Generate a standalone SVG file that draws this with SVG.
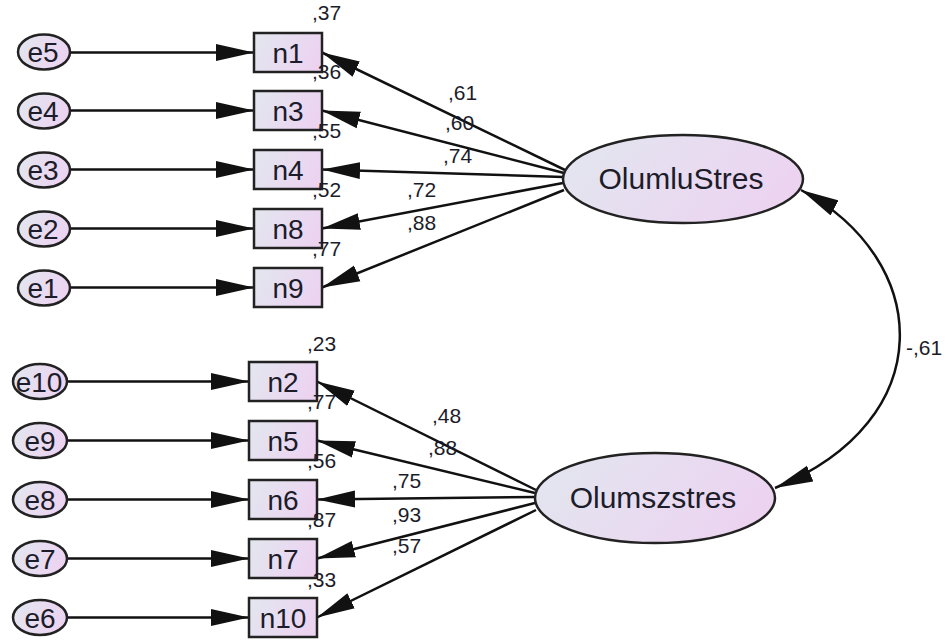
<svg xmlns="http://www.w3.org/2000/svg" width="952" height="643" viewBox="0 0 952 643">
<defs>
<linearGradient id="g" x1="0" y1="0" x2="1" y2="0.3">
<stop offset="0" stop-color="#e2e7ef"/>
<stop offset="1" stop-color="#ecd4f1"/>
</linearGradient>
<marker id="ah" markerUnits="userSpaceOnUse" markerWidth="38" markerHeight="18" viewBox="0 0 36 16" refX="36" refY="8" orient="auto-start-reverse">
<path d="M0,0 L36,8 L0,16 z" fill="#111"/>
</marker>
<style>
.nd{fill:url(#g);stroke:#222;stroke-width:2.5}
.lbl{font-family:"Liberation Sans",Arial,sans-serif;fill:#1c1c2a}
.nt{font-size:28px;text-anchor:middle}
.lt{font-size:30px;text-anchor:middle}
.v{font-size:21px}
.c line,.c path{stroke:#111;stroke-width:2.5;fill:none;marker-end:url(#ah)}
</style>
</defs>
<g class="c" id="connectors">
<line x1="70" y1="52.5" x2="254" y2="52.5"/>
<line x1="70" y1="110.5" x2="254" y2="110.5"/>
<line x1="70" y1="169.5" x2="254" y2="169.5"/>
<line x1="70" y1="228.5" x2="254" y2="228.5"/>
<line x1="70" y1="287.5" x2="254" y2="287.5"/>
<line x1="67" y1="381.5" x2="249" y2="381.5"/>
<line x1="67" y1="440.5" x2="249" y2="440.5"/>
<line x1="67" y1="499.5" x2="249" y2="499.5"/>
<line x1="67" y1="558.5" x2="249" y2="558.5"/>
<line x1="67" y1="617.5" x2="249" y2="617.5"/>
<line x1="565" y1="170" x2="322" y2="52.5"/>
<line x1="564" y1="173" x2="322" y2="110.5"/>
<line x1="563" y1="177" x2="322" y2="169.5"/>
<line x1="563" y1="183" x2="322" y2="228.5"/>
<line x1="564" y1="190" x2="322" y2="287.5"/>
<line x1="536" y1="490" x2="317" y2="381.5"/>
<line x1="535" y1="493" x2="317" y2="440.5"/>
<line x1="535" y1="497" x2="317" y2="499.5"/>
<line x1="535" y1="503" x2="317" y2="558.5"/>
<line x1="536" y1="510" x2="317" y2="617.5"/>
<path d="M 801 190 C 932 260, 942 420, 775 488" style="marker-start:url(#ah)"/>
</g>
<g id="labels" class="lbl v">
<text x="448" y="100">,61</text>
<text x="445" y="130">,60</text>
<text x="443" y="163">,74</text>
<text x="407" y="197">,72</text>
<text x="407" y="230">,88</text>
<text x="432" y="423">,48</text>
<text x="428" y="455">,88</text>
<text x="392" y="488">,75</text>
<text x="392" y="522">,93</text>
<text x="392" y="553">,57</text>
<text x="906" y="355">-,61</text>
</g>
<g id="e5"><ellipse class="nd" cx="44" cy="52" rx="26" ry="17.5"/><text class="lbl nt" x="43" y="62">e5</text></g>
<g id="e4"><ellipse class="nd" cx="44" cy="111" rx="26" ry="17.5"/><text class="lbl nt" x="43" y="121">e4</text></g>
<g id="e3"><ellipse class="nd" cx="44" cy="170" rx="26" ry="17.5"/><text class="lbl nt" x="43" y="180">e3</text></g>
<g id="e2"><ellipse class="nd" cx="44" cy="229" rx="26" ry="17.5"/><text class="lbl nt" x="43" y="239">e2</text></g>
<g id="e1"><ellipse class="nd" cx="44" cy="288" rx="26" ry="17.5"/><text class="lbl nt" x="43" y="298">e1</text></g>
<g id="e10"><ellipse class="nd" cx="40" cy="381.5" rx="27" ry="17.5"/><text class="lbl nt" x="39" y="391.5">e10</text></g>
<g id="e9"><ellipse class="nd" cx="40" cy="440.5" rx="27" ry="17.5"/><text class="lbl nt" x="40" y="450.5">e9</text></g>
<g id="e8"><ellipse class="nd" cx="40" cy="499.5" rx="27" ry="17.5"/><text class="lbl nt" x="40" y="509.5">e8</text></g>
<g id="e7"><ellipse class="nd" cx="40" cy="558.5" rx="27" ry="17.5"/><text class="lbl nt" x="40" y="568.5">e7</text></g>
<g id="e6"><ellipse class="nd" cx="40" cy="617.5" rx="27" ry="17.5"/><text class="lbl nt" x="40" y="627.5">e6</text></g>
<g id="n1"><rect class="nd" x="254" y="33" width="68" height="39"/><text class="lbl nt" x="288" y="62.5">n1</text><text class="lbl v" x="312" y="20">,37</text></g>
<g id="n3"><rect class="nd" x="254" y="91" width="68" height="39"/><text class="lbl nt" x="288" y="120.5">n3</text><text class="lbl v" x="312" y="79">,36</text></g>
<g id="n4"><rect class="nd" x="254" y="150" width="68" height="39"/><text class="lbl nt" x="288" y="179.5">n4</text><text class="lbl v" x="312" y="138">,55</text></g>
<g id="n8"><rect class="nd" x="254" y="209" width="68" height="39"/><text class="lbl nt" x="288" y="238.5">n8</text><text class="lbl v" x="312" y="197">,52</text></g>
<g id="n9"><rect class="nd" x="254" y="268" width="68" height="39"/><text class="lbl nt" x="288" y="297.5">n9</text><text class="lbl v" x="312" y="256">,77</text></g>
<g id="n2"><rect class="nd" x="249" y="362" width="68" height="39"/><text class="lbl nt" x="283" y="391.5">n2</text><text class="lbl v" x="307" y="351">,23</text></g>
<g id="n5"><rect class="nd" x="249" y="421" width="68" height="39"/><text class="lbl nt" x="283" y="450.5">n5</text><text class="lbl v" x="307" y="409">,77</text></g>
<g id="n6"><rect class="nd" x="249" y="480" width="68" height="39"/><text class="lbl nt" x="283" y="509.5">n6</text><text class="lbl v" x="307" y="468">,56</text></g>
<g id="n7"><rect class="nd" x="249" y="539" width="68" height="39"/><text class="lbl nt" x="283" y="568.5">n7</text><text class="lbl v" x="307" y="527">,87</text></g>
<g id="n10"><rect class="nd" x="249" y="598" width="68" height="39"/><text class="lbl nt" x="283" y="627.5">n10</text><text class="lbl v" x="307" y="587">,33</text></g>
<g id="OlumluStres"><ellipse class="nd" cx="683" cy="179" rx="120" ry="44"/><text class="lbl lt" x="681" y="189">OlumluStres</text></g>
<g id="Olumszstres"><ellipse class="nd" cx="655" cy="498" rx="120" ry="45"/><text class="lbl lt" x="653" y="508">Olumszstres</text></g>
</svg>
